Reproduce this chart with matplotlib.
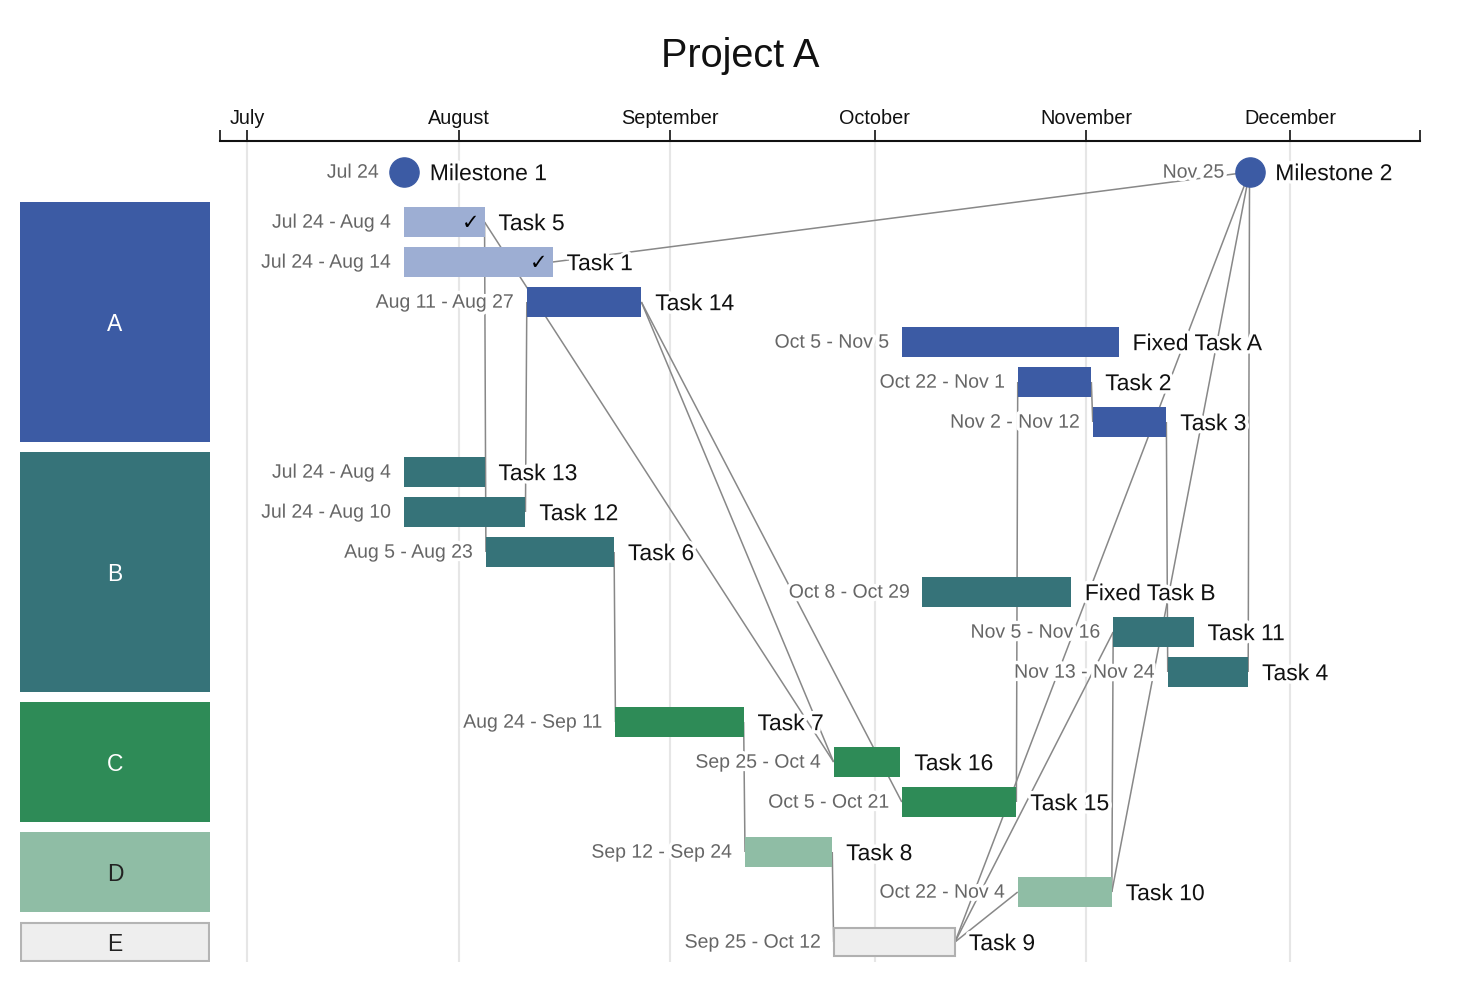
import matplotlib
matplotlib.use('Agg')
import matplotlib.pyplot as plt
import matplotlib.dates as mdates
import matplotlib.patheffects as pe
from matplotlib.patches import Rectangle
import pandas as pd

plt.rcParams['font.family'] = ['Liberation Sans', 'DejaVu Sans']

# ---------------- data ----------------
YEAR = 2023
title = 'Project A'
groups = ['A', 'B', 'C', 'D', 'E']
group_colors = ['#3C5BA4', '#367379', '#2E8B57', '#8FBDA5', '#EEEEEE']
group_text_colors = ['white', 'white', 'white', '#222222', '#222222']
done_color = '#9DAED3'

milestone_names = ['Milestone 1', 'Milestone 2']
milestone_dates = ['Jul 24', 'Nov 25']

task_names = ['Task 5', 'Task 1', 'Task 14', 'Fixed Task A', 'Task 2', 'Task 3',
              'Task 13', 'Task 12', 'Task 6', 'Fixed Task B', 'Task 11', 'Task 4',
              'Task 7', 'Task 16', 'Task 15',
              'Task 8', 'Task 10',
              'Task 9']
task_groups = ['A'] * 6 + ['B'] * 6 + ['C'] * 3 + ['D'] * 2 + ['E']
task_starts = ['Jul 24', 'Jul 24', 'Aug 11', 'Oct 5', 'Oct 22', 'Nov 2',
               'Jul 24', 'Jul 24', 'Aug 5', 'Oct 8', 'Nov 5', 'Nov 13',
               'Aug 24', 'Sep 25', 'Oct 5',
               'Sep 12', 'Oct 22',
               'Sep 25']
task_ends = ['Aug 4', 'Aug 14', 'Aug 27', 'Nov 5', 'Nov 1', 'Nov 12',
             'Aug 4', 'Aug 10', 'Aug 23', 'Oct 29', 'Nov 16', 'Nov 24',
             'Sep 11', 'Oct 4', 'Oct 21',
             'Sep 24', 'Nov 4',
             'Oct 12']
task_done = [True, True] + [False] * 16

dependencies = [('Task 5', 'Task 6'), ('Task 5', 'Task 16'), ('Task 12', 'Task 14'),
                ('Task 14', 'Task 16'), ('Task 14', 'Task 15'), ('Task 6', 'Task 7'),
                ('Task 7', 'Task 8'), ('Task 8', 'Task 9'), ('Task 15', 'Task 2'),
                ('Task 2', 'Task 3'), ('Task 3', 'Task 4'), ('Task 9', 'Task 10'),
                ('Task 9', 'Task 11'), ('Task 10', 'Task 11'),
                ('Task 1', 'Milestone 2'), ('Task 4', 'Milestone 2'),
                ('Task 9', 'Milestone 2'), ('Task 10', 'Milestone 2')]

month_labels = ['July', 'August', 'September', 'October', 'November', 'December']
x_range = ['Jun 27', 'Dec 20']

# ---------------- helpers ----------------
def d(s):
    return mdates.date2num(pd.to_datetime(f'{s} {YEAR}', format='%b %d %Y'))

END_PAD = 0.8
ROW, GAP, BAR_H = 40, 10, 30
Y_TOP, Y_BOT = 141, 962

cursor = Y_TOP + 11
ms_y = cursor + ROW / 2
cursor += ROW + GAP
task_y, group_span = {}, {}
for g in groups:
    g0 = cursor
    for n, tg in zip(task_names, task_groups):
        if tg == g:
            task_y[n] = cursor + ROW / 2
            cursor += ROW
    group_span[g] = (g0, cursor)
    cursor += GAP

W, H = 1480, 992
fig = plt.figure(figsize=(W / 100, H / 100), dpi=100)
ax = fig.add_axes([220 / W, (H - Y_BOT) / H, 1200 / W, (Y_BOT - Y_TOP) / H])
gax = fig.add_axes([20 / W, (H - Y_BOT) / H, 190 / W, (Y_BOT - Y_TOP) / H])

halo = [pe.withStroke(linewidth=5, foreground='white')]
TASK_FS, DATE_FS = 16.5, 14
TY = 0.6  # small vertical text nudge (points)

# axes setup
ax.set_xlim(d(x_range[0]), d(x_range[1]))
ax.set_ylim(Y_BOT, Y_TOP)
for s in ['left', 'right', 'bottom']:
    ax.spines[s].set_visible(False)
ax.spines['top'].set_linewidth(1.5)
ax.spines['top'].set_color('#111111')
month_ticks = [mdates.date2num(pd.Timestamp(YEAR, m, 1)) for m in range(7, 13)]
ax.set_xticks(month_ticks)
ax.set_xticklabels(month_labels, fontsize=14.3, color='#111111')
ax.set_xticks(list(ax.get_xlim()), minor=True)
ax.tick_params(axis='x', which='both', top=True, bottom=False, labeltop=True,
               labelbottom=False, direction='out', length=8, width=1.2,
               color='#111111', pad=1.5)
ax.set_yticks([])
ax.grid(axis='x', which='major', color='#e6e6e6', linewidth=1.5, zorder=0)
ax.set_axisbelow(True)

# dependency lines
task_start = {n: d(s) for n, s in zip(task_names, task_starts)}
task_end = {n: d(e) + END_PAD for n, e in zip(task_names, task_ends)}
ms_x = {n: d(s) for n, s in zip(milestone_names, milestone_dates)}
for p, s in dependencies:
    x0, y0 = task_end[p], task_y[p]
    if s in ms_x:
        x1, y1 = ms_x[s], ms_y
    else:
        x1, y1 = task_start[s], task_y[s]
    ax.plot([x0, x1], [y0, y1], color='#888888', linewidth=1.1, zorder=1,
            solid_capstyle='butt')

# bars
gcol = dict(zip(groups, group_colors))
for n, g, s, e, done in zip(task_names, task_groups, task_starts, task_ends, task_done):
    x0, x1, y = task_start[n], task_end[n], task_y[n]
    fc = done_color if done else gcol[g]
    if g == 'E':
        ax.barh(y, x1 - x0, left=x0, height=BAR_H - 1.5, color=fc,
                edgecolor='#B0B0B0', linewidth=1.5, zorder=2)
    else:
        ax.barh(y, x1 - x0, left=x0, height=BAR_H, color=fc, linewidth=0, zorder=2)
    ax.annotate(n, (x1, y), xytext=(10, TY), textcoords='offset points',
                ha='left', va='center_baseline', fontsize=TASK_FS, color='#111111',
                path_effects=halo, zorder=4)
    ax.annotate(f'{s} - {e}', (x0, y), xytext=(-9, TY), textcoords='offset points',
                ha='right', va='center_baseline', fontsize=DATE_FS, color='#666666',
                path_effects=halo, zorder=4)
    if done:
        ax.annotate('\u2713', (x1, y), xytext=(-4, TY), textcoords='offset points',
                    ha='right', va='center_baseline', fontsize=15, color='black',
                    zorder=3)

# milestones
for n, s in zip(milestone_names, milestone_dates):
    x = ms_x[n]
    ax.plot([x], [ms_y], marker='o', markersize=21, color=gcol['A'],
            linestyle='none', zorder=3)
    ax.annotate(n, (x, ms_y), xytext=(18.5, TY), textcoords='offset points',
                ha='left', va='center_baseline', fontsize=TASK_FS, color='#111111',
                path_effects=halo, zorder=4)
    ax.annotate(s, (x, ms_y), xytext=(-18, TY), textcoords='offset points',
                ha='right', va='center_baseline', fontsize=DATE_FS, color='#666666',
                path_effects=halo, zorder=4)

# group boxes
gax.set_xlim(0, 1)
gax.set_ylim(Y_BOT, Y_TOP)
gax.axis('off')
for g, c, tc in zip(groups, group_colors, group_text_colors):
    y0, y1 = group_span[g]
    if g == 'E':
        gax.add_patch(Rectangle((0.006, y0 + 1), 0.988, y1 - y0 - 2, facecolor=c,
                                edgecolor='#B4B4B4', linewidth=1.5))
    else:
        gax.add_patch(Rectangle((0, y0), 1, y1 - y0, facecolor=c, linewidth=0))
    gax.text(0.5, (y0 + y1) / 2, g, ha='center', va='center_baseline',
             fontsize=TASK_FS, color=tc)

fig.text(0.5, 1 - 52 / H, title, ha='center', va='center_baseline',
         fontsize=28.5, color='#111111')

fig.savefig('out.png', dpi=100, facecolor='white')
